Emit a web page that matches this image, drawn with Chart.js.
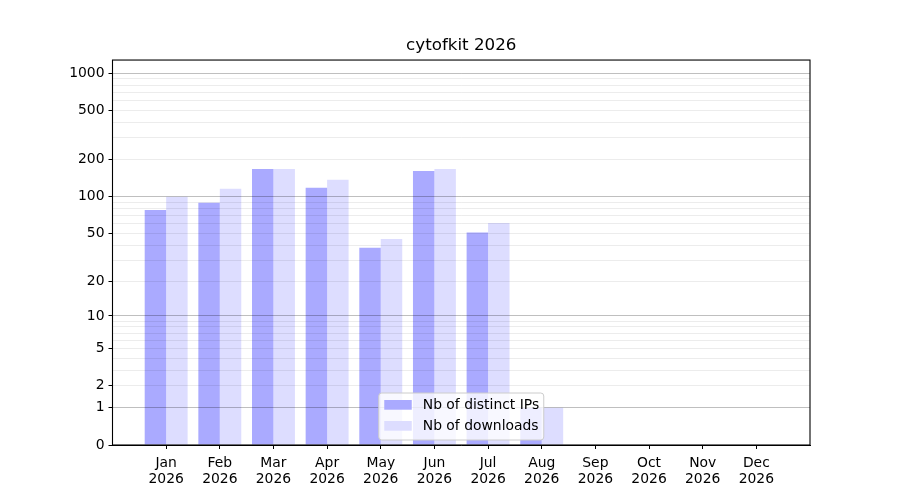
<!DOCTYPE html>
<html>
<head>
<meta charset="utf-8">
<script src="https://cdn.jsdelivr.net/npm/chart.js@4"></script>
<style>
  html, body { margin: 0; padding: 0; background: #fff; }
  #wrap { width: 900px; height: 500px; position: relative; }
</style>
</head>
<body>
<div id="wrap"><canvas id="c"></canvas></div>
<script>
const months = ["Jan","Feb","Mar","Apr","May","Jun","Jul","Aug","Sep","Oct","Nov","Dec"];
const yearLabel = "2026";
const distinctIPs = [78, 89, 168, 118, 38, 162, 51, 1, 0, 0, 0, 0];
const downloads   = [100, 116, 168, 137, 45, 168, 61, 1, 0, 0, 0, 0];
const yTickValues = [0,1,2,3,4,5,6,7,8,9,10,20,30,40,50,60,70,80,90,100,200,300,400,500,600,700,800,900,1000];
const yLabeled    = [0,1,2,5,10,20,50,100,200,500,1000];
const yMajor      = [1,10,100,1000];
const titleText = "cytofkit 2026";

const tf = v => Math.log10(1 + v);
const FONT = "'DejaVu Sans', sans-serif";
const FS = 13.9;

const frame = {
  id: 'frame',
  afterDraw(chart) {
    const {ctx, chartArea: a} = chart;
    ctx.save();
    // legend
    const cx = (a.left + a.right) / 2;
    const w = 165, h = 47;
    const x0 = cx - w / 2, y0 = a.bottom - 5 - h;
    ctx.beginPath();
    ctx.roundRect(x0, y0, w, h, 3);
    ctx.fillStyle = 'rgba(255,255,255,0.8)';
    ctx.fill();
    ctx.strokeStyle = '#cccccc';
    ctx.lineWidth = 1;
    ctx.stroke();
    ctx.font = FS + 'px ' + FONT;
    ctx.textBaseline = 'middle';
    ctx.textAlign = 'left';
    chart.data.datasets.forEach((ds, i) => {
      const ry = y0 + 12 + i * 21;
      ctx.fillStyle = ds.backgroundColor;
      ctx.fillRect(x0 + 5.5, ry - 5, 27.5, 9.7);
      ctx.fillStyle = '#000';
      ctx.fillText(ds.label, x0 + 44, ry);
    });
    // frame
    ctx.strokeStyle = '#000';
    ctx.lineWidth = 1.1;
    ctx.strokeRect(a.left, a.top, a.right - a.left, a.bottom - a.top);
    ctx.restore();
  }
};

new Chart(document.getElementById('c'), {
  type: 'bar',
  data: {
    datasets: [
      { label: 'Nb of distinct IPs', data: distinctIPs.map((v, i) => ({x: i, y: tf(v)})), backgroundColor: '#aaaaff' },
      { label: 'Nb of downloads', data: downloads.map((v, i) => ({x: i, y: tf(v)})), backgroundColor: '#ddddff' }
    ]
  },
  options: {
    responsive: true,
    maintainAspectRatio: false,
    animation: false,
    categoryPercentage: 0.8,
    barPercentage: 1.0,
    layout: { padding: { left: 0, right: 90, top: 0, bottom: 0 } },
    plugins: {
      legend: { display: false },
      tooltip: { enabled: false },
      title: {
        display: true, text: titleText, color: '#000', fullSize: false,
        font: { family: FONT, size: 16.7, weight: 'normal' },
        padding: { top: 36, bottom: 4 }
      }
    },
    scales: {
      x: {
        type: 'linear', min: -1, max: 12, offset: false,
        afterBuildTicks: s => { s.ticks = months.map((m, i) => ({ value: i })); },
        afterFit: s => { s.height = 55; },
        grid: { offset: false, drawOnChartArea: false, drawTicks: true, tickLength: 4, color: '#000' },
        border: { color: '#000', width: 1 },
        ticks: {
          autoSkip: false, maxRotation: 0, padding: 6, color: '#000',
          font: { family: FONT, size: FS, lineHeight: 1.15 },
          callback: (v) => [months[v], yearLabel]
        }
      },
      y: {
        type: 'linear', min: 0, max: 3.107,
        afterBuildTicks: s => { s.ticks = yTickValues.map(v => ({ value: tf(v) })); },
        afterFit: s => { s.width = 112.5; },
        grid: {
          z: 1,
          drawTicks: true, tickLength: 4,
          color: c => {
            const v = yTickValues[c.index];
            if (v === 0) return 'rgba(0,0,0,0)';
            return yMajor.includes(v) ? 'rgba(0,0,0,0.25)' : 'rgba(0,0,0,0.075)';
          },
          tickColor: c => yLabeled.includes(yTickValues[c.index]) ? '#000' : 'rgba(0,0,0,0)'
        },
        border: { color: '#000', width: 1, z: 2 },
        ticks: {
          autoSkip: false, padding: 4, color: '#000',
          font: { family: FONT, size: FS },
          callback: (v, i) => yLabeled.includes(yTickValues[i]) ? String(yTickValues[i]) : ''
        }
      }
    }
  },
  plugins: [frame]
});
</script>
</body>
</html>
